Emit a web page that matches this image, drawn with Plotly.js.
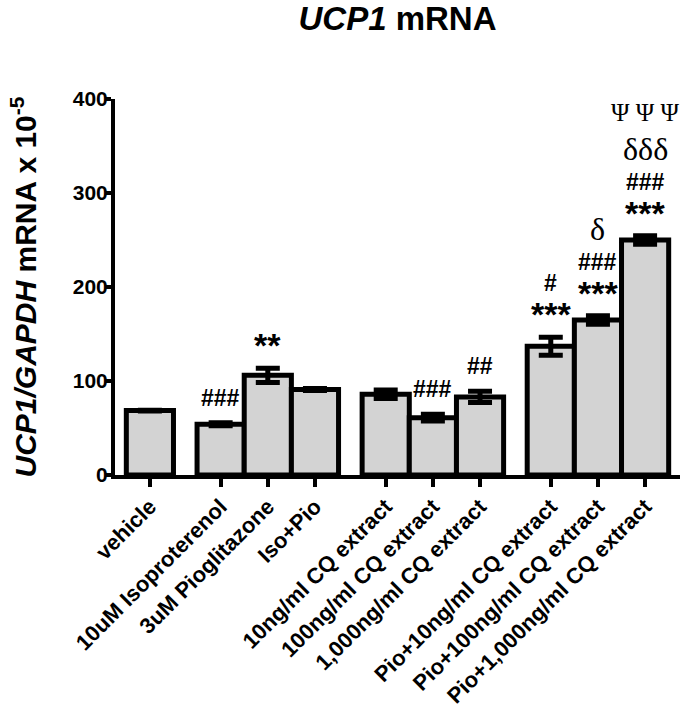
<!DOCTYPE html>
<html>
<head>
<meta charset="utf-8">
<script src="https://cdn.plot.ly/plotly-3.0.1.min.js"></script>
<style>html,body{margin:0;padding:0;background:#fff;}#chart{width:685px;height:711px;}</style>
</head>
<body>
<div id="chart"></div>
<script>
// ---- data ----
const categories = ['vehicle', '10uM Isoproterenol', '3uM Pioglitazone', 'Iso+Pio',
  '10ng/ml CQ extract', '100ng/ml CQ extract', '1,000ng/ml CQ extract',
  'Pio+10ng/ml CQ extract', 'Pio+100ng/ml CQ extract', 'Pio+1,000ng/ml CQ extract'];
const groupSizes = [1, 3, 3, 3];
const means = [68.5, 54, 106, 91, 86, 61, 83, 137, 165, 250];
const sem = [0.5, 1.5, 7.5, 1, 4.5, 3.5, 6, 9.5, 4.5, 4.5];
const stars = ['', '', '**', '', '', '', '', '***', '***', '***'];
const hashes = ['', '###', '', '', '', '###', '##', '#', '###', '###'];
const deltas = ['', '', '', '', '', '', '', '', 'δ', 'δδδ'];
const psis = ['', '', '', '', '', '', '', '', '', 'Ψ Ψ Ψ'];
const yTicks = [0, 100, 200, 300, 400];

// ---- layout helpers ----
const GAP = 0.5;
const xs = [];
let pos = 0;
groupSizes.forEach((n, g) => {
  if (g > 0) pos += GAP;
  for (let i = 0; i < n; i++) { xs.push(pos); pos += 1; }
});

const SANS = 'Liberation Sans, Arial, sans-serif';
const SERIF = 'Liberation Serif, Times New Roman, serif';

const trace = {
  type: 'bar',
  x: xs,
  y: means,
  width: 1,
  marker: { color: '#d3d3d3', line: { color: '#000', width: 5 } },
  error_y: { type: 'data', array: sem, visible: true, color: '#000', thickness: 5, width: 12 },
  hoverinfo: 'skip'
};

const lineOffsets = [25, 54, 87, 123];
const annotations = [];
categories.forEach((c, i) => {
  const lines = [
    { t: stars[i], font: { family: SANS, size: 34, color: '#000', weight: 'bold' }, adj: -2 },
    { t: hashes[i], font: { family: SANS, size: 23, color: '#000', weight: 'bold' }, adj: 0 },
    { t: deltas[i], font: { family: SERIF, size: 32, color: '#000' }, adj: 0 },
    { t: psis[i], font: { family: SERIF, size: 25, color: '#000' }, adj: 0 }
  ].filter(l => l.t);
  lines.forEach((l, k) => {
    annotations.push({
      x: xs[i], y: means[i] + sem[i], xref: 'x', yref: 'y',
      text: l.t, showarrow: false, font: l.font,
      xanchor: 'center', yanchor: 'middle',
      yshift: lineOffsets[k] + l.adj
    });
  });
});

const layout = {
  width: 685, height: 711,
  margin: { l: 115, r: 5, t: 99, b: 236 },
  paper_bgcolor: '#fff', plot_bgcolor: '#fff',
  showlegend: false,
  title: {
    text: '<i>UCP1</i> mRNA',
    font: { family: SANS, size: 33, color: '#000', weight: 'bold' },
    x: 0.5, xref: 'paper', xanchor: 'center',
    y: 1 - 18 / 711, yref: 'container', yanchor: 'middle'
  },
  xaxis: {
    range: [-0.74, 11.24],
    tickvals: xs, ticktext: categories, tickangle: -45,
    tickfont: { family: SANS, size: 22, color: '#000', weight: 'bold' },
    ticklabelstandoff: -2,
    showline: true, linecolor: '#000', linewidth: 4,
    ticks: 'outside', ticklen: 8, tickwidth: 4, tickcolor: '#000',
    showgrid: false, zeroline: false, fixedrange: true
  },
  yaxis: {
    range: [0, 400],
    tickvals: yTicks, ticktext: yTicks.map(String),
    tickfont: { family: SANS, size: 21, color: '#000', weight: 'bold' },
    showline: true, linecolor: '#000', linewidth: 4,
    ticks: 'outside', ticklen: 6, tickwidth: 4, tickcolor: '#000',
    ticklabelstandoff: -7,
    showgrid: false, zeroline: false, fixedrange: true,
    title: {
      text: '<i>UCP1/GAPDH</i> mRNA x 10<sup>-5</sup>',
      font: { family: SANS, size: 30, color: '#000', weight: 'bold' },
      standoff: 28
    }
  },
  annotations: annotations
};

Plotly.newPlot('chart', [trace], layout, { staticPlot: true, displayModeBar: false });
</script>
</body>
</html>
